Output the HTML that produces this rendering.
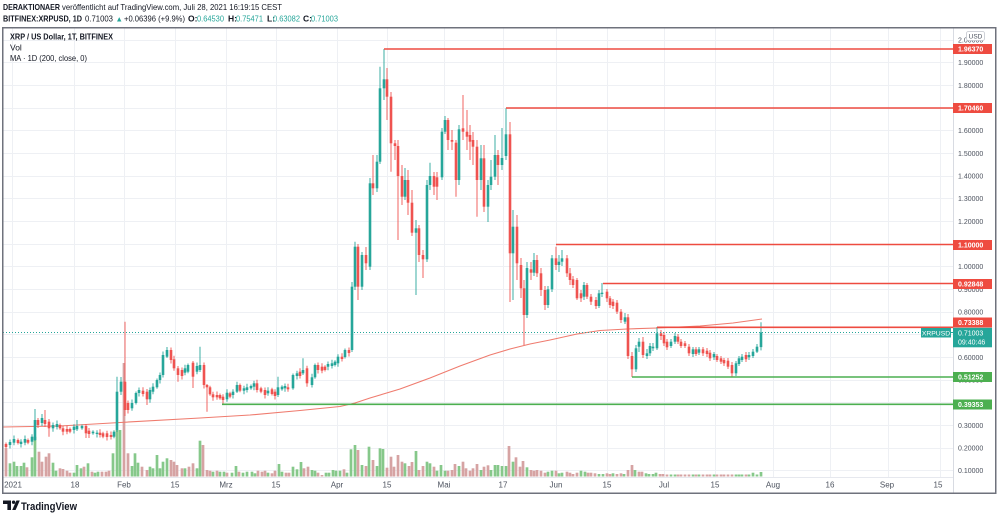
<!DOCTYPE html>
<html><head><meta charset="utf-8"><style>
html,body{margin:0;padding:0;background:#fff;}
svg{display:block;font-family:"Liberation Sans",Arial,sans-serif;}
</style></head><body>
<svg id="s" width="1000" height="516" viewBox="0 0 1000 516" xmlns="http://www.w3.org/2000/svg">
<rect width="1000" height="516" fill="#fff"/>
<!-- header -->
<text x="3" y="10" font-size="8.5" font-weight="bold" fill="#131722" textLength="57" lengthAdjust="spacingAndGlyphs">DERAKTIONAER</text>
<text x="62" y="10" font-size="8.5" fill="#131722" textLength="220" lengthAdjust="spacingAndGlyphs">veröffentlicht auf TradingView.com, Juli 28, 2021 16:19:15 CEST</text>
<text x="3" y="21.5" font-size="8.5" font-weight="bold" fill="#131722" textLength="79" lengthAdjust="spacingAndGlyphs">BITFINEX:XRPUSD, 1D</text>
<text x="85" y="21.5" font-size="8.5" fill="#131722" textLength="28" lengthAdjust="spacingAndGlyphs">0.71003</text>
<text x="115.5" y="21.5" font-size="7.5" fill="#26a69a">▲</text>
<text x="124" y="21.5" font-size="8.5" fill="#131722" textLength="61" lengthAdjust="spacingAndGlyphs">+0.06396 (+9.9%)</text>
<text x="188" y="21.5" font-size="8.5" font-weight="bold" fill="#131722">O:</text>
<text x="197" y="21.5" font-size="8.5" fill="#26a69a" textLength="27" lengthAdjust="spacingAndGlyphs">0.64530</text>
<text x="228" y="21.5" font-size="8.5" font-weight="bold" fill="#131722">H:</text>
<text x="236" y="21.5" font-size="8.5" fill="#26a69a" textLength="27" lengthAdjust="spacingAndGlyphs">0.75471</text>
<text x="267" y="21.5" font-size="8.5" font-weight="bold" fill="#131722">L:</text>
<text x="273" y="21.5" font-size="8.5" fill="#26a69a" textLength="27" lengthAdjust="spacingAndGlyphs">0.63082</text>
<text x="303" y="21.5" font-size="8.5" font-weight="bold" fill="#131722">C:</text>
<text x="311" y="21.5" font-size="8.5" fill="#26a69a" textLength="27" lengthAdjust="spacingAndGlyphs">0.71003</text>

<!-- grid -->
<g stroke="#eef0f4" stroke-width="1">
<line x1="3" x2="953" y1="40.5" y2="40.5"/><line x1="3" x2="953" y1="62.5" y2="62.5"/>
<line x1="3" x2="953" y1="85.5" y2="85.5"/><line x1="3" x2="953" y1="108.5" y2="108.5"/>
<line x1="3" x2="953" y1="130.5" y2="130.5"/><line x1="3" x2="953" y1="153.5" y2="153.5"/>
<line x1="3" x2="953" y1="176.5" y2="176.5"/><line x1="3" x2="953" y1="198.5" y2="198.5"/>
<line x1="3" x2="953" y1="221.5" y2="221.5"/><line x1="3" x2="953" y1="244.5" y2="244.5"/>
<line x1="3" x2="953" y1="266.5" y2="266.5"/><line x1="3" x2="953" y1="289.5" y2="289.5"/>
<line x1="3" x2="953" y1="312.5" y2="312.5"/><line x1="3" x2="953" y1="334.5" y2="334.5"/>
<line x1="3" x2="953" y1="357.5" y2="357.5"/><line x1="3" x2="953" y1="380.5" y2="380.5"/>
<line x1="3" x2="953" y1="402.5" y2="402.5"/><line x1="3" x2="953" y1="425.5" y2="425.5"/>
<line x1="3" x2="953" y1="448.5" y2="448.5"/><line x1="3" x2="953" y1="470.5" y2="470.5"/>
<line x1="12.5" x2="12.5" y1="28" y2="477"/><line x1="74.5" x2="74.5" y1="28" y2="477"/>
<line x1="124.5" x2="124.5" y1="28" y2="477"/><line x1="175.5" x2="175.5" y1="28" y2="477"/>
<line x1="226.5" x2="226.5" y1="28" y2="477"/><line x1="276.5" x2="276.5" y1="28" y2="477"/>
<line x1="337.5" x2="337.5" y1="28" y2="477"/><line x1="387.5" x2="387.5" y1="28" y2="477"/>
<line x1="444.5" x2="444.5" y1="28" y2="477"/><line x1="503.5" x2="503.5" y1="28" y2="477"/>
<line x1="556.5" x2="556.5" y1="28" y2="477"/><line x1="607.5" x2="607.5" y1="28" y2="477"/>
<line x1="664.5" x2="664.5" y1="28" y2="477"/><line x1="715.5" x2="715.5" y1="28" y2="477"/>
<line x1="773.5" x2="773.5" y1="28" y2="477"/><line x1="830.5" x2="830.5" y1="28" y2="477"/>
<line x1="888.5" x2="888.5" y1="28" y2="477"/><line x1="940.5" x2="940.5" y1="28" y2="477"/>
</g>
<!-- axis separators -->
<line x1="953.5" x2="953.5" y1="28" y2="493" stroke="#d8dbe2" stroke-width="1"/>
<line x1="3" x2="953" y1="477.5" y2="477.5" stroke="#e6e8ee" stroke-width="1"/>

<!-- volume -->
<g id="vol"></g>
<!-- MA -->
<polyline fill="none" stroke="#ef7b6e" stroke-width="1.1" points="3,427 60,426 120,422.5 200,418 250,415 300,410.5 340,406.5 355,403 370,398 400,389 430,378 460,366 490,355 510,349 530,344 550,340 577,334 600,330.5 627,329 657,328 700,326 733,323 762,319"/>
<!-- candles -->
<g id="candles"></g>

<!-- current price dotted line -->
<line x1="3" x2="921" y1="332.5" y2="332.5" stroke="#26a69a" stroke-width="1" stroke-dasharray="1 2"/>

<!-- level lines -->
<g stroke-width="1.6">
<line x1="384" x2="953" y1="49" y2="49" stroke="#ee4b40"/>
<line x1="506" x2="953" y1="108" y2="108" stroke="#ee4b40"/>
<line x1="556" x2="953" y1="244.5" y2="244.5" stroke="#ee4b40"/>
<line x1="603" x2="953" y1="283.5" y2="283.5" stroke="#ee4b40"/>
<line x1="657" x2="953" y1="327.3" y2="327.3" stroke="#ee4b40"/>
<line x1="632" x2="953" y1="377" y2="377" stroke="#4caf50"/>
<line x1="222" x2="953" y1="404.3" y2="404.3" stroke="#4caf50"/>
</g>

<!-- legend -->
<text x="10" y="39.5" font-size="8.5" font-weight="bold" fill="#131722" textLength="103" lengthAdjust="spacingAndGlyphs">XRP / US Dollar, 1T, BITFINEX</text>
<text x="10" y="50.5" font-size="8.5" fill="#131722">Vol</text>
<text x="10" y="61" font-size="8.5" fill="#131722" textLength="77" lengthAdjust="spacingAndGlyphs">MA · 1D (200, close, 0)</text>

<!-- right axis labels -->
<g font-size="7" fill="#4c525e">
<text x="958" y="42.5">2.00000</text>
<text x="958" y="65">1.90000</text>
<text x="958" y="88">1.80000</text>
<text x="958" y="110.5">1.70000</text>
<text x="958" y="133">1.60000</text>
<text x="958" y="156">1.50000</text>
<text x="958" y="178.5">1.40000</text>
<text x="958" y="201">1.30000</text>
<text x="958" y="224">1.20000</text>
<text x="958" y="246.5">1.10000</text>
<text x="958" y="269">1.00000</text>
<text x="958" y="292">0.90000</text>
<text x="958" y="314.5">0.80000</text>
<text x="958" y="337">0.70000</text>
<text x="958" y="360">0.60000</text>
<text x="958" y="382.5">0.50000</text>
<text x="958" y="405">0.40000</text>
<text x="958" y="428">0.30000</text>
<text x="958" y="450.5">0.20000</text>
<text x="958" y="473">0.10000</text>
</g>
<!-- USD box -->
<rect x="966.5" y="31.5" width="18" height="9" rx="2" fill="#fff" stroke="#c3c6ce" stroke-width="0.8"/>
<text x="975.5" y="38.6" font-size="6.5" fill="#4c525e" text-anchor="middle">USD</text>

<!-- level labels -->
<g font-size="7" font-weight="bold" fill="#fff">
<rect x="953" y="44" width="39" height="10" fill="#ee4b40"/><text x="958" y="51.6">1.96370</text>
<rect x="953" y="103" width="39" height="10" fill="#ee4b40"/><text x="958" y="110.6">1.70460</text>
<rect x="953" y="240" width="39" height="10" fill="#ee4b40"/><text x="958" y="247.6">1.10000</text>
<rect x="953" y="279" width="39" height="10" fill="#ee4b40"/><text x="958" y="286.6">0.92848</text>
<rect x="953" y="317.5" width="39" height="10" fill="#ee4b40"/><text x="958" y="325.1">0.73388</text>
<rect x="953" y="372" width="39" height="10" fill="#4caf50"/><text x="958" y="379.6">0.51252</text>
<rect x="953" y="399.5" width="39" height="10" fill="#4caf50"/><text x="958" y="407.1">0.39353</text>
</g>
<!-- current price labels -->
<rect x="921" y="328" width="30" height="9.5" fill="#26a69a"/>
<text x="936" y="335.3" font-size="6.8" fill="#fff" text-anchor="middle">XRPUSD</text>
<line x1="951" x2="953" y1="332.5" y2="332.5" stroke="#26a69a"/>
<rect x="953" y="327.8" width="39" height="19.5" fill="#26a69a"/>
<text x="958" y="335.5" font-size="7" fill="#fff">0.71003</text>
<text x="958" y="344.5" font-size="7" fill="#fff">09:40:46</text>

<!-- time axis labels -->
<g font-size="8" fill="#4c525e" text-anchor="middle">
<text x="13" y="487.5">2021</text>
<text x="75" y="487.5">18</text>
<text x="124" y="487.5">Feb</text>
<text x="175" y="487.5">15</text>
<text x="226" y="487.5">Mrz</text>
<text x="276" y="487.5">15</text>
<text x="337" y="487.5">Apr</text>
<text x="387" y="487.5">15</text>
<text x="444" y="487.5">Mai</text>
<text x="503" y="487.5">17</text>
<text x="556" y="487.5">Jun</text>
<text x="607" y="487.5">15</text>
<text x="664" y="487.5">Jul</text>
<text x="715" y="487.5">15</text>
<text x="773" y="487.5">Aug</text>
<text x="830" y="487.5">16</text>
<text x="887" y="487.5">Sep</text>
<text x="938" y="487.5">15</text>
</g>

<!-- frame -->
<rect x="2.75" y="27.75" width="993" height="465.5" fill="none" stroke="#6f727c" stroke-width="1.5"/>

<!-- TradingView logo -->
<path d="M3 500.5 h8 v9.5 h-3.6 v-6 h-4.4z" fill="#131722"/>
<circle cx="13.6" cy="502.2" r="1.7" fill="#131722"/>
<path d="M12.2 510 l4.2 -9.5 h3.4 l-4.2 9.5z" fill="#131722"/>
<text x="21" y="510" font-size="11" font-weight="bold" fill="#131722" textLength="56" lengthAdjust="spacingAndGlyphs">TradingView</text>
</svg>
<script>
(function(){
var NS="http://www.w3.org/2000/svg";
function el(t,a,p){var e=document.createElementNS(NS,t);for(var k in a)e.setAttribute(k,a[k]);p.appendChild(e);return e;}
var G="#26a69a",R="#ef5350";
var C=[
[6,'r',444,447],[10,'g',442,445],[14,'g',439,442.7],[18,'r',440,443],[21,'g',441.7,444],[25,'g',439,442.7],[28,'r',440,442.7],[32,'g',436.7,441.7],
[35,'g',420,440,409,441],[38,'r',420,425,418,428],[42,'g',418,423,414,426],[45,'r',420,424,410,427],[49,'r',421.7,428.3,419,436.7],[53,'g',425,428.3],[57,'g',424,427],[60,'r',425,428.3],
[63,'r',428.3,431.7],[67,'r',429,431.7],[70,'r',429,431.7],[74,'g',426.7,430],[77,'g',426,429.3,420,431],[82,'g',426,428.3],[86,'r',426,433.3,424,438],[89,'r',430.7,434,428,438],
[93,'g',431.7,433.3],[97,'g',432.7,434],[100,'r',432.7,435],[103,'r',433.3,436.7],[107,'r',433.3,437],[111,'r',435,437],[114,'g',431.7,436.7],[117,'g',391.7,430,376.7,432],
[121,'g',381.7,391.7,377,395],[125,'r',381.7,410,321.7,416],[128,'r',403,410],[132,'g',403,408.3],[136,'g',393,403],[139,'g',390,393],[143,'r',390.7,394],[147,'r',391.7,399.3,389,405],
[150,'g',390,399.3],[153,'g',386.7,391.7],[157,'g',380,387.3],[160,'g',375,380],[163,'g',355,375],[167,'g',350,356.7,347,358],[171,'r',350,360],[174,'r',359.3,368.3],
[178,'r',368.3,375,366,381.7],[182,'r',370,376],[185,'g',368.3,372.7],[188,'g',365,371.7],[193,'r',362.7,376.7,361,388],[197,'g',366,371.7],[200,'g',365,370,346.7,372],[204,'r',365,385],
[207,'r',385,387.3,384,411.7],[210,'r',387.3,394.3],[213,'r',394.3,397.3],[217,'r',395,397.3],[220,'r',395,398.3],[223,'r',396.7,400],[227,'g',392.7,399.3],[230,'r',393.3,396.7],
[233,'g',391.7,395],[237,'g',385,391.7,381.7,393],[240,'r',385,390.7],[244,'g',388.3,390.7],[247,'g',387.3,390],[251,'g',386,388.3],[254,'g',383.3,386.7],[257,'r',383.3,390],
[261,'r',388.3,391.7],[265,'r',390,395],[268,'g',390.7,393.3],[272,'r',389.3,394],[275,'r',391.7,396],[278,'g',387.3,395,376.7,397],[282,'g',386.7,389.3],[285,'g',386,388.3],
[288,'r',387.3,389.3],[293,'g',375,388.3],[297,'g',373.3,376],[300,'r',371.7,376],[303,'g',370,373.3,358.3,375],[307,'r',368.3,383.3],[312,'g',377.3,385],[315,'g',365,377.3],
[318,'r',365,370],[322,'r',366.7,370.7],[325,'r',366.7,370],[328,'g',364,366.7],[332,'g',363.3,366],[335,'g',361.7,365],[338,'g',356.7,363.3],[342,'r',356.7,359],
[345,'g',350,357],[349,'r',350,353],[352,'g',286.7,350,282,352],[355,'g',246.7,286.7,241.7,290],[358,'r',246.7,286.7,244,300],[362,'g',255,286.7,252,290],[366,'r',255,263.3,247,270],[370,'g',183.3,266.7,178,270],
[373,'r',183.3,188.3,155,195],[377,'g',161.7,188.3,155,192],[380,'g',88.3,161.7,66.7,164],[384,'g',79.3,88.3,49,100],[387,'r',79.3,96.7,68,120],[391,'r',96.7,143.3,92,171.7],[395,'r',143.3,146,140,160],[398,'r',146,176,140,240],
[402,'r',176,196.7,165,205],[405,'g',180,196.7,168,200],[408,'r',180,202.7,170,215],[412,'r',202.7,232.7,190,236],[416,'g',228.3,232.7,220,295],[419,'r',228.3,255,225,262],[423,'r',255,259.3,250,278],[427,'g',185,259.3,180,262],
[430,'g',176,185,162.7,190],[434,'r',176,186.7,172,195],[437,'r',177.3,186.7,172,200],[442,'g',131.7,177.3,128,180],[445,'g',120,131.7,116,134],[448,'r',120,140,118,150],[452,'r',140,141.7,130,150],[456,'r',142.7,180,140,196.7],
[459,'g',129.3,180,125,185],[463,'r',128.3,131.7,95,140],[467,'r',131.7,136.7,110,150],[470,'r',135,141.7,125,160],[473,'r',140,146.7,132,165],[477,'r',146.7,180,140,216.7],[481,'g',158.3,180,145,190],[484,'r',158.3,206.7,145,212],
[488,'g',185,206.7,180,222],[491,'g',176.7,185,160,190],[495,'g',155,176.7,135,180],[498,'r',155,165,150,185],[502,'g',158,165,128,170],[506,'g',134.3,156,108.3,160],[510,'r',134.3,253.3,122,302],[513,'g',226.7,253.3,210,300],
[517,'r',226.7,263.3,215,280],[521,'r',265,288.3,258,298],[524,'r',288.3,315,280,345],[527,'g',268,315,262,318],[531,'r',269.3,272.7,262,280],[534,'g',260,272.7,253,276],[537,'r',260,273.3,255,277],[541,'r',273.3,290,268,296],
[545,'r',290,305,286,310],[548,'g',289.3,305,286,308],[552,'g',258.3,289.3,255,292],[556,'r',258.3,265,246.7,270],[559,'g',261.7,265,255,272],[562,'g',258.3,261.7,250,266],[567,'r',258.3,273.3,255,277],[570,'r',273.3,280,268,285],
[573,'r',279.3,285,276,288],[577,'r',280,298.3,278,300],[581,'r',293.3,298.3,290,302],[584,'g',285,296.7,282,300],[587,'r',285,296.7,283,299],[591,'r',296.7,301.7,294,305],[596,'r',300,306,297,309],[599,'g',293.3,306,290,308],
[602,'g',292.7,294,283,297],[607,'r',291.7,298.3,289,302],[610,'r',298.3,305,296,308],[613,'r',301.7,306,299,309],[617,'r',302.7,311.7,300,314],[621,'r',311.7,320,309,323],[625,'g',317.3,321.7,313,324],[628,'r',317.3,356,314,359],
[632,'r',356,369.3,352,377],[636,'g',348.3,369.3,345,372],[639,'g',341.7,346.7,338,352],[643,'r',341.7,355,337,358],[647,'g',353.3,356,349,359],[650,'g',346,353.3,343,356],[653,'g',346.7,348.3,343,351],[657,'g',333.3,348.3,327,350],
[661,'r',333.3,336,330,340],[664,'r',335,343.3,332,346],[667,'r',341.7,347.3,339,350],[671,'g',341.7,346,339,348],[675,'g',336,341.7,333,344],[678,'r',336.7,341.7,334,344],[681,'r',341.7,346,339,348],[685,'r',343.3,346,341,348],
[689,'r',346.7,353.3,344,356],[693,'g',349.3,354,347,357],[696,'r',349.3,354,347,356],[699,'g',349.3,352.7,347,355],[703,'r',349.3,353.3,347,356],[707,'r',350.7,354,348,357],[710,'r',352.7,358.3,350,361],[714,'g',354,357.3,352,360],
[717,'r',356,360,354,362],[721,'r',358.3,361.7,356,364],[724,'r',360,363.3,358,366],[728,'r',360.7,366.7,358,369],[732,'r',365,373.3,362,376.7],[736,'g',363.3,373.3,361,376],[739,'g',358.3,364,356,366],[742,'g',356.7,360,354,362],
[746,'r',355,359.3,352,362],[749,'g',355,357.3,352,360],[753,'g',351.7,356,349,358],[757,'g',346.7,351.7,344,353],[761,'g',332.4,347.1,322.3,350.4]
];
var cg=document.getElementById('candles');
C.forEach(function(c,k){
  var x=c[0],col=c[1]=='g'?G:R,t=c[2],b=c[3];
  var h=c[4]||(t-(1.5+k%3)), l=c[5]||(b+(1.5+(k*2)%3));
  el('line',{x1:x,x2:x,y1:h,y2:l,stroke:col,'stroke-width':0.9},cg);
  el('rect',{x:x-1.3,y:t,width:2.6,height:Math.max(b-t,0.9),fill:col},cg);
});
var VG="#86c88a",VR="#d6a3a3";
var V=[
[6,'r',448.3],[10,'g',463.3],[14,'g',461.7],[17,'g',466],[21,'g',466],[24,'g',462.7],[27,'r',467.3],[32,'g',457.3],[35,'g',436.7],[39,'r',451.7],[42,'r',461.7],[46,'r',456.7],[49,'r',453.3],[53,'g',462.7],[56,'g',470.7],[60,'r',468.3],[63,'r',469],[67,'r',470.7],[70,'r',472.7],[74,'g',472.7],[77,'g',465],[81,'g',468.3],[84,'r',466.7],[88,'g',463.3],[92,'r',471.7],[95,'g',472.7],[98,'g',471.7],[102,'r',471.7],[106,'r',471.7],[109,'r',470.7],[113,'g',453.3],[117,'g',430],[120,'g',430],[124,'r',363],[128,'r',453.3],[132,'g',466],[135,'g',453.3],[138,'g',462.7],[142,'r',466.7],[147,'r',470],[150,'g',466.7],[153,'g',468.3],[157,'g',455],[160,'g',468.3],[163,'g',461.7],[167,'g',458.3],[171,'r',460],[174,'r',461.7],[177,'r',465],[182,'r',468.3],[185,'g',468.3],[189,'r',466.7],[193,'r',463.3],[197,'g',468.3],[200,'g',440.7],[203,'r',445],[207,'r',470],[210,'r',470.7],[213,'g',471.7],[217,'r',470.7],[220,'g',471.7],[224,'g',471.7],[227,'r',472.7],[232,'g',472.7],[236,'g',466],[239,'r',471.7],[243,'g',472.7],[247,'g',471.7],
[252,'g',471.7],[255,'g',473.3],[258,'r',470.7],[262,'r',471.7],[265,'r',470.7],[268,'g',472.7],[272,'r',473.3],[275,'r',470.7],[279,'g',464],[282,'g',471.7],[286,'r',472.7],[289,'r',472.7],[293,'g',466.7],[297,'g',469.3],[301,'g',462],[304,'r',468.3],[308,'r',466.7],[312,'g',470],[315,'g',470.7],[318,'r',472.7],[322,'r',475],[326,'g',472.7],[329,'g',472.7],[333,'g',470],[336,'g',470.7],[340,'g',470.7],[344,'r',469.3],[347,'g',472.7],[351,'g',449.3],[355,'g',445],[358,'r',450],[362,'g',465],[366,'r',466],[369,'g',446.7],[373,'r',460],[377,'g',466],[380,'g',448.3],[383,'g',449],[387,'r',467.7],[391,'r',456.7],[394,'r',466.7],[398,'r',455],[402,'r',461.7],[405,'g',463.3],[409,'r',466],[412,'r',462],[416,'g',451],[419,'r',470],[423,'r',466],[427,'g',461.7],[430,'g',463.3],[434,'r',466.7],[437,'g',470.7],[441,'g',465],[445,'g',470.7],[448,'r',470.7],[452,'r',470],[455,'r',464],[459,'g',466],[463,'r',461.7],[466,'r',468.3],[470,'r',470.7],[473,'r',468.3],[477,'r',464],[481,'g',470],[484,'r',466.7],[488,'r',465.3],[491,'g',470],[495,'g',465],[498,'g',465],
[502,'g',466],[506,'g',466],[509,'r',446],[513,'g',461.7],[516,'r',457.3],[520,'r',466.7],[523,'r',461],[527,'g',467.3],[531,'r',470],[534,'r',470.7],[537,'r',470],[541,'r',470.7],[545,'r',472.7],[548,'g',471.7],[552,'g',470.7],[556,'r',470.7],[559,'g',473.3],[562,'g',472.7],[567,'r',471.7],[570,'r',472.7],[573,'r',474],[577,'r',472.7],[581,'g',470.7],[585,'g',471.7],[588,'r',472.7],[591,'r',472.7],[595,'r',473.3],[599,'g',474],[603,'g',474],[607,'r',473.3],[610,'r',474],[613,'g',473.3],[617,'r',474],[621,'r',473.3],[624,'g',474],[628,'r',470],[632,'r',465],[635,'g',470],[639,'r',471.7],[642,'r',471.7],[646,'g',473.3],[649,'g',474],[653,'g',474],[656,'g',472.7],[660,'r',474],[663,'r',474]
];
C.forEach(function(c){ if(c[0]>=667){ var top=474.5; if(c[0]==753) top=472.7; if(c[0]==761) top=472; V.push([c[0],c[1],top]); }});
var vg=document.getElementById('vol');
V.forEach(function(v){ el('rect',{x:v[0]-1.35,y:v[2],width:2.7,height:476.5-v[2],fill:v[1]=='g'?VG:VR},vg); });
})();
</script>
</body></html>
